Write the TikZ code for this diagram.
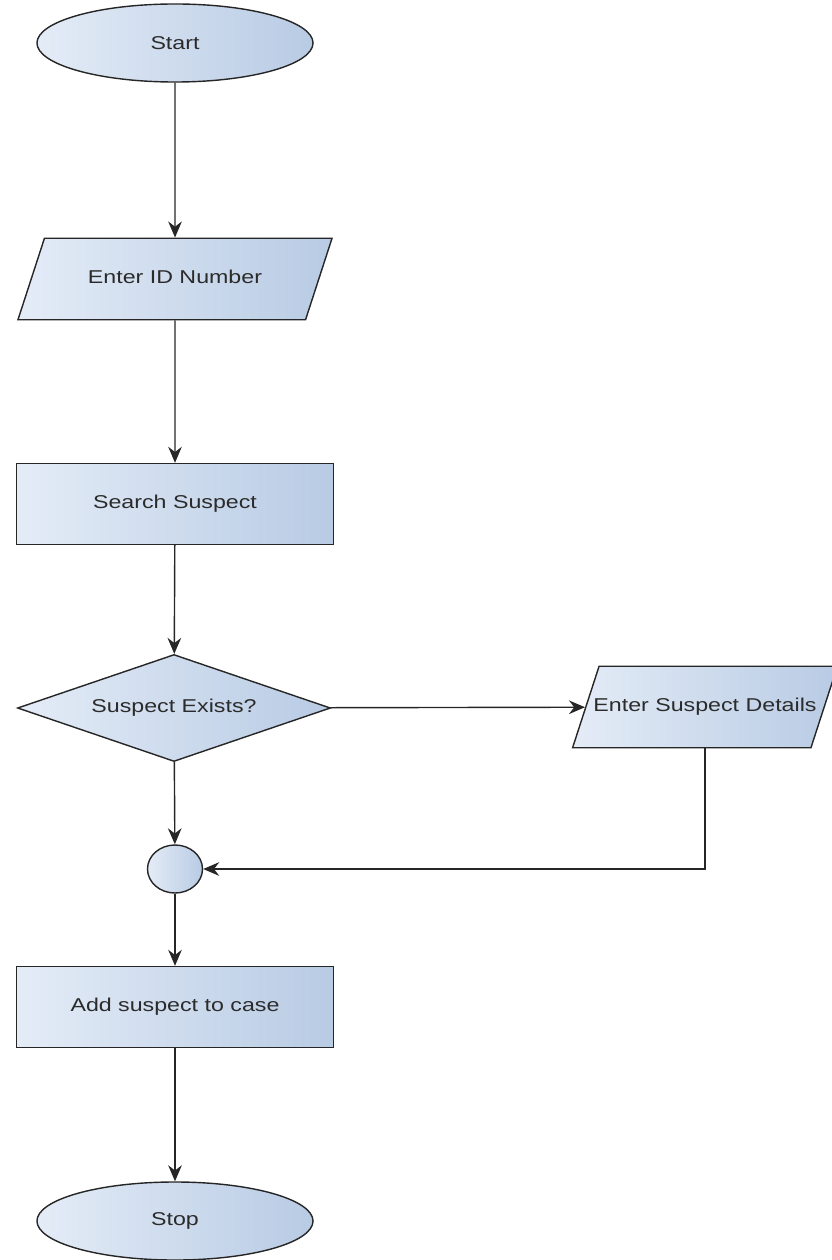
\documentclass[tikz,border=0pt]{standalone}
\usepackage{fontspec}
\newfontfamily\chartfont[FakeStretch=1.25]{Liberation Sans}
\usetikzlibrary{shapes.geometric,arrows.meta}

\definecolor{boxleft}{HTML}{E4ECF7}
\definecolor{boxright}{HTML}{B8CBE4}
\definecolor{inktext}{HTML}{2B2B2B}

\tikzset{
  base/.style={draw=black!85, line width=1pt, left color=boxleft, right color=boxright,
    font=\chartfont\fontsize{13.2}{15}\selectfont, text=inktext, inner sep=0pt},
  terminal/.style={base, ellipse, minimum width=6.9cm, minimum height=1.95cm},
  io/.style={base, trapezium, trapezium left angle=72, trapezium right angle=108,
    trapezium stretches body=true, text height=9.5pt, text depth=2.5pt,
    inner ysep=23pt, minimum width=7.85cm},
  process/.style={base, rectangle, minimum width=7.925cm, minimum height=2.025cm},
  decision/.style={base, diamond, aspect=2.9, minimum width=7.825cm, minimum height=2.675cm},
  joint/.style={base, ellipse, minimum width=1.375cm, minimum height=1.2cm},
  flow/.style={draw=black!85, line width=1pt, -{Stealth[length=0.4cm, width=0.34cm]}},
}

\begin{document}
\begin{tikzpicture}[x=0.025cm, y=-0.025cm]
    \useasboundingbox (0,0) rectangle (832,1260);

    % main column
    \node[terminal] (start) at (175,43) {Start};
    \node[io] (enterid) at (175,279) {Enter ID Number};
    \node[process] (search) at (175,504) {Search Suspect};
    \node[decision] (exists) at (174,708) {Suspect Exists?};
    \node[joint] (merge) at (175,869) {};
    \node[process] (addcase) at (175,1007) {Add suspect to case};
    \node[terminal] (stop) at (175,1221) {Stop};

    % side branch
    \node[io, minimum width=6cm, inner xsep=-4pt] (details) at (705,707) {Enter Suspect Details};

    % connectors
    \draw[flow] (start) -- (enterid);
    \draw[flow] (enterid) -- (search);
    \draw[flow] (search) -- (exists);
    \draw[flow] (exists) -- (details);
    \draw[flow] (exists) -- (merge);
    \draw[flow] (details.south) |- (merge);
    \draw[flow] (merge) -- (addcase);
    \draw[flow] (addcase) -- (stop);

\end{tikzpicture}
\end{document}
